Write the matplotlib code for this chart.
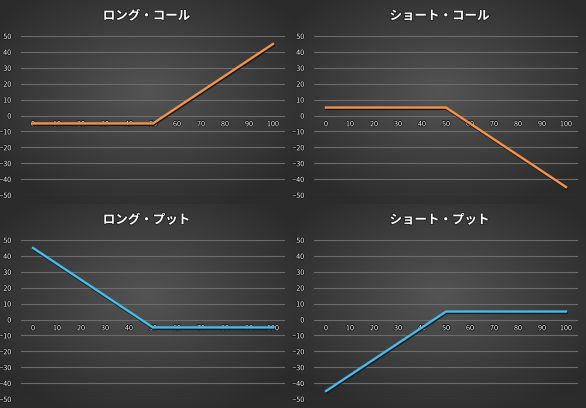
import matplotlib
matplotlib.use("Agg")
import matplotlib.pyplot as plt
import matplotlib.patheffects as pe
import numpy as np

plt.rcParams['font.family'] = ['Noto Sans CJK JP', 'DejaVu Sans']

# data
price = [0, 10, 20, 30, 40, 50, 60, 70, 80, 90, 100]
long_call = [-5, -5, -5, -5, -5, -5, 5, 15, 25, 35, 45]
short_call = [5, 5, 5, 5, 5, 5, -5, -15, -25, -35, -45]
long_put = [45, 35, 25, 15, 5, -5, -5, -5, -5, -5, -5]
short_put = [-45, -35, -25, -15, -5, 5, 5, 5, 5, 5, 5]
y_ticks = [-50, -40, -30, -20, -10, 0, 10, 20, 30, 40, 50]

titles = ['ロング・コール', 'ショート・コール', 'ロング・プット', 'ショート・プット']
series = [long_call, short_call, long_put, short_put]
colors = ['#F5934A', '#F5934A', '#45BDEB', '#45BDEB']

W, H = 586, 408
PW, PH = 293, 204
fig = plt.figure(figsize=(W / 100, H / 100), dpi=100)
fig.patch.set_facecolor('#2b2b2b')

# radial gradient for one panel
yy, xx = np.mgrid[0:PH, 0:PW]
r = np.sqrt(((xx - PW * 0.5) / (PW * 0.62)) ** 2 + ((yy - PH * 0.45) / (PH * 0.62)) ** 2)
r = np.clip(r, 0, 1)
c0, c1 = 0.33, 0.17
grad = c0 + (c1 - c0) * r
img = np.dstack([grad, grad, grad])

shadow = [pe.SimpleLineShadow(offset=(0.5, -1.0), shadow_color='#10151c', alpha=0.9),
          pe.Normal()]
lab_fx = [pe.withStroke(linewidth=1.0, foreground='#151515')]

for i in range(4):
    col, row = i % 2, i // 2
    px, py = col * PW, row * PH

    bg = fig.add_axes([px / W, 1 - (py + PH) / H, PW / W, PH / H])
    bg.imshow(img, aspect='auto', extent=[0, 1, 0, 1])
    bg.axis('off')

    # title
    fig.text((px + PW / 2) / W, 1 - (py + 16) / H, titles[i], ha='center', va='center',
             fontsize=9, fontweight='bold', color='white',
             path_effects=[pe.withStroke(linewidth=1.3, foreground='#1e1e1e')])

    left, right = px + 21, px + 285
    top, bottom = py + 36, py + 195
    ax = fig.add_axes([left / W, 1 - bottom / H, (right - left) / W, (bottom - top) / H])
    ax.set_facecolor('none')
    ax.set_xlim(-5, 105)
    ax.set_ylim(-50, 50)
    for s in ax.spines.values():
        s.set_visible(False)
    ax.set_xticks([])
    ax.set_yticks(y_ticks)
    ax.tick_params(axis='y', length=0, pad=7, labelsize=5.2, labelcolor='#f2f2f2')
    for lab in ax.get_yticklabels():
        lab.set_path_effects(lab_fx)
    ax.grid(axis='y', color='#6c6c6c', linewidth=0.8)
    ax.set_axisbelow(True)

    for x in price:
        ax.text(x, -5.5, str(x), ha='center', va='center', fontsize=5.2, color='#f2f2f2',
                zorder=1, path_effects=lab_fx)

    ax.plot(price, series[i], color=colors[i], linewidth=1.7, zorder=3,
            solid_joinstyle='miter', path_effects=shadow)

fig.savefig('out.png', dpi=100, facecolor=fig.get_facecolor())
